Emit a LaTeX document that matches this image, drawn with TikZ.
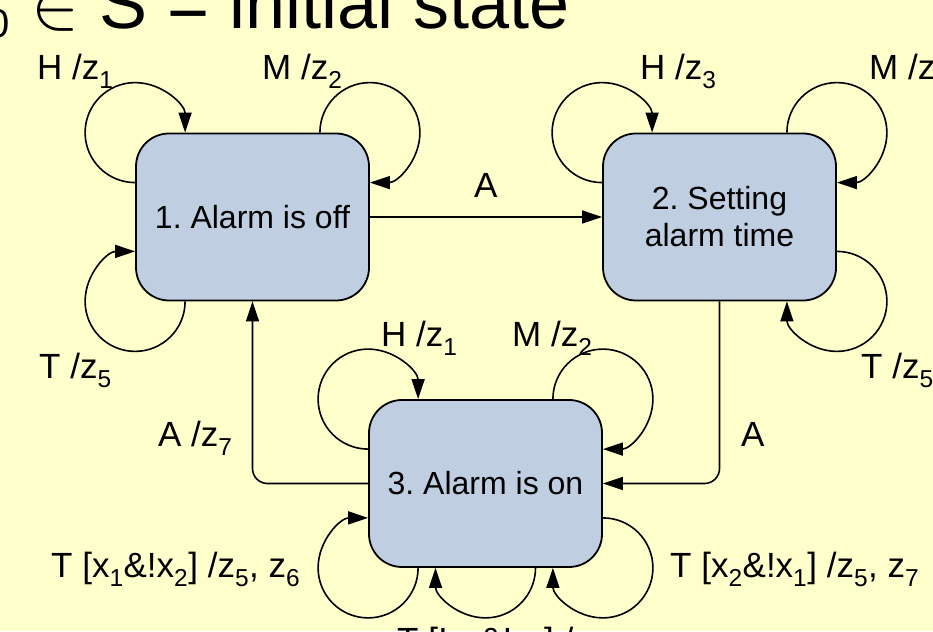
\documentclass[tikz,border=0pt]{standalone}
\usepackage{fontspec}
\setmainfont{Liberation Sans}
\usetikzlibrary{arrows.meta}
\definecolor{bg}{RGB}{255,255,204}
\definecolor{boxfill}{RGB}{192,206,226}
\frenchspacing
\begin{document}
\begin{tikzpicture}[x=1pt,y=1pt,
  state/.style={draw, line width=1.8pt, fill=boxfill, rounded corners=33pt,
    minimum width=233pt, minimum height=167pt, inner sep=0pt, align=center,
    font=\fontsize{32}{37}\selectfont},
  lbl/.style={anchor=base west, inner sep=0pt, font=\fontsize{35}{42}\selectfont},
  ttl/.style={anchor=base west, inner sep=0pt},
  edge/.style={line width=1.6pt, -{Triangle[length=20pt,width=13pt]}},
]
\useasboundingbox (0,0) rectangle (933,631);
\clip (0,0) rectangle (933,631);
\fill[bg] (0,0) rectangle (933,631);

% title (cut by the frame)
\node[ttl, font=\fontsize{40}{48}\selectfont] (t0) at (-12.4,593) {0};
\node[ttl, font=\fontsize{12}{14}\selectfont, scale=6, transform shape] (t1) at (30,602) {$\in$};
\node[ttl, font=\fontsize{72}{86}\selectfont] (t2) at (99,602) {S = initial state};

% states
\node[state] (n1) at (252.5,414) {1. Alarm is off};
\node[state] (n2) at (719.5,414) {2. Setting\\alarm time};
\node[state] (n3) at (485.5,147.5) {3. Alarm is on};

% transitions between states
\draw[edge] (n1.east) -- (n2.west);
\draw[edge, rounded corners=15pt] (n2.south) |- (n3.east);
\draw[edge, rounded corners=15pt] (n3.west) -| (n1.south);

% self loops of state 1
\draw[edge] ([yshift=-50pt]n1.north west) arc[start angle=270, end angle=0, radius=50pt];
\draw[edge] ([xshift=-50pt]n1.north east) arc[start angle=180, end angle=-90, radius=50pt];
\draw[edge] ([xshift=50pt]n1.south west) arc[start angle=0, end angle=-270, radius=50pt];

% self loops of state 2
\draw[edge] ([yshift=-50pt]n2.north west) arc[start angle=270, end angle=0, radius=50pt];
\draw[edge] ([xshift=-50pt]n2.north east) arc[start angle=180, end angle=-90, radius=50pt];
\draw[edge] ([yshift=50pt]n2.south east) arc[start angle=90, end angle=-180, radius=50pt];

% self loops of state 3
\draw[edge] ([yshift=-50pt]n3.north west) arc[start angle=270, end angle=0, radius=50pt];
\draw[edge] ([xshift=-50pt]n3.north east) arc[start angle=180, end angle=-90, radius=50pt];
\draw[edge] ([xshift=50pt]n3.south west) arc[start angle=0, end angle=-270, radius=50pt];
\draw[edge] ([xshift=50pt]n3.south) arc[start angle=0, end angle=-180, radius=50pt];
\draw[edge] ([yshift=50pt]n3.south east) arc[start angle=90, end angle=-180, radius=50pt];

% labels
\node[lbl] (a12) at (474,433) {A};
\node[lbl] (a23) at (741,184) {A};
\node[lbl] (a31) at (158,184) {A /z\textsubscript{7}};

\node[lbl] (h1) at (37,551) {H /z\textsubscript{1}};
\node[lbl] (m1) at (262,551) {M /z\textsubscript{2}};
\node[lbl] (t1l) at (39,252) {T /z\textsubscript{5}};

\node[lbl] (h2) at (640,551) {H /z\textsubscript{3}};
\node[lbl] (m2) at (869,551) {M /z\textsubscript{4}};
\node[lbl] (t2l) at (861,252) {T /z\textsubscript{5}};

\node[lbl] (h3) at (381,284) {H /z\textsubscript{1}};
\node[lbl] (m3) at (512,284) {M /z\textsubscript{2}};
\node[lbl] (tl3) at (51,53) {T [x\textsubscript{1}\&!x\textsubscript{2}] /z\textsubscript{5}, z\textsubscript{6}};
\node[lbl] (tr3) at (670,53) {T [x\textsubscript{2}\&!x\textsubscript{1}] /z\textsubscript{5}, z\textsubscript{7}};
\node[lbl] (tb3) at (397,-21) {T [!x\textsubscript{1}\&!x\textsubscript{2}] /z\textsubscript{5}};
\end{tikzpicture}
\end{document}
